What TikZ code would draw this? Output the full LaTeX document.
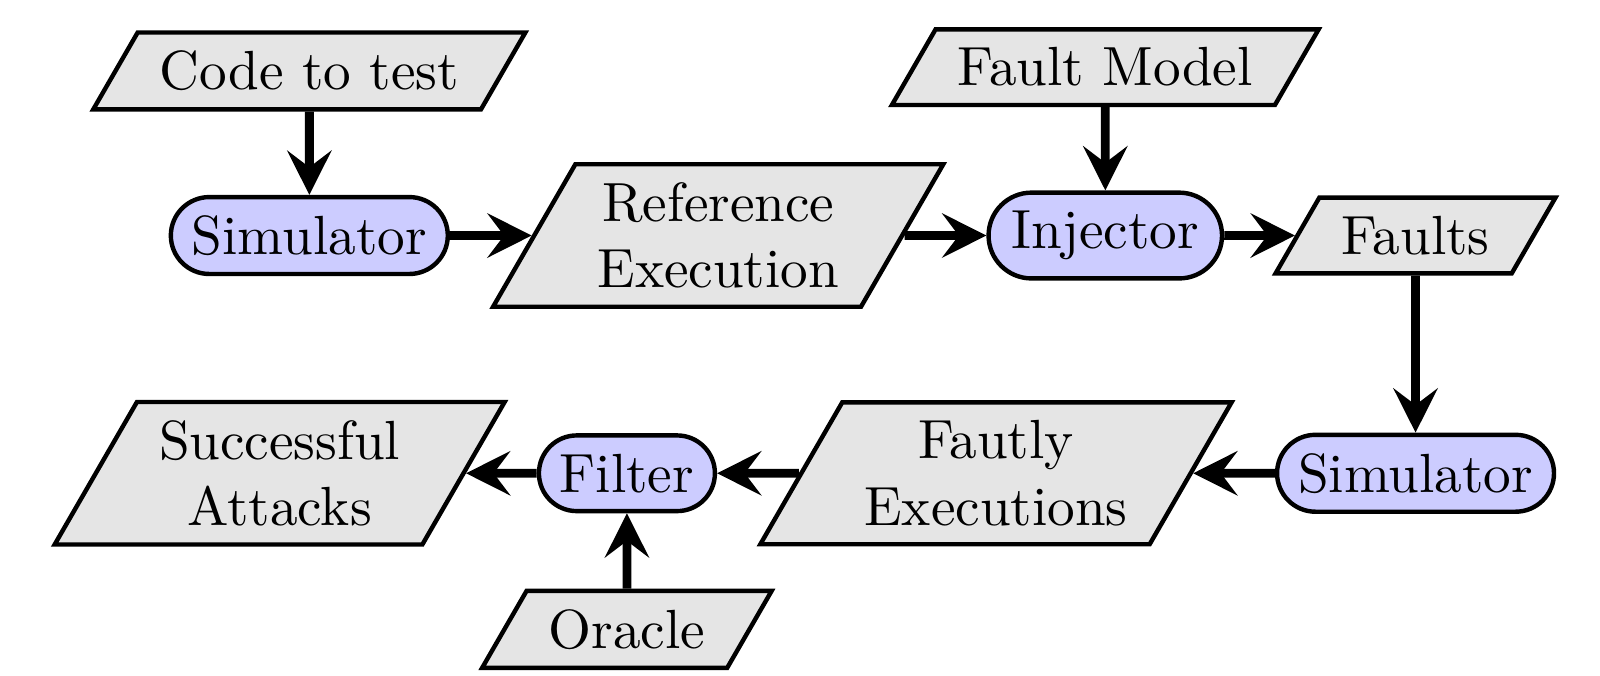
\documentclass[tikz,border=0pt]{standalone}
\usetikzlibrary{arrows.meta, positioning, shapes.geometric, shapes.misc}

\begin{document}
\begin{tikzpicture}[
  node distance=0.52cm,
  tool/.style={draw, thick, rounded rectangle, inner xsep=2.8pt, fill=blue!20},
  data/.style={draw, thick, trapezium, trapezium left angle=60, trapezium right angle=120, inner xsep=4pt, fill=gray!20, align=center},
  arr/.style={-{Stealth[length=8pt, width=8pt, inset=3pt]}, ultra thick}
]
  \useasboundingbox (-1.97,-2.80) rectangle (8.22,1.50);

  % top row: reference run and fault injection
  \node[tool] (sim1) {Simulator};
  \node[data, above=0.53cm of sim1] (code) {Code to test};
  \node[data, right=of sim1] (ref) {Reference\\Execution};
  \node[tool, right=of ref] (inj) {Injector};
  \node[data, above=0.53cm of inj] (model) {Fault Model};
  \node[data, right=0.45cm of inj] (faults) {Faults};

  % bottom row: faulty runs, filtered by the oracle
  \node[tool, below=1.0cm of faults] (sim2) {Simulator};
  \node[data, left=of sim2] (faulty) {Fautly\\Executions};
  \node[tool, left=of faulty] (filter) {Filter};
  \node[data, left=0.45cm of filter] (attacks) {Successful\\Attacks};
  \node[data, below=0.48cm of filter] (oracle) {Oracle};

  \draw[arr] (code) -- (sim1);
  \draw[arr] (sim1) -- (ref);
  \draw[arr] (ref) -- (inj);
  \draw[arr] (model) -- (inj);
  \draw[arr] (inj) -- (faults);
  \draw[arr] (faults) -- (sim2);
  \draw[arr] (sim2) -- (faulty);
  \draw[arr] (faulty) -- (filter);
  \draw[arr] (filter) -- (attacks);
  \draw[arr] (oracle) -- (filter);
\end{tikzpicture}
\end{document}
